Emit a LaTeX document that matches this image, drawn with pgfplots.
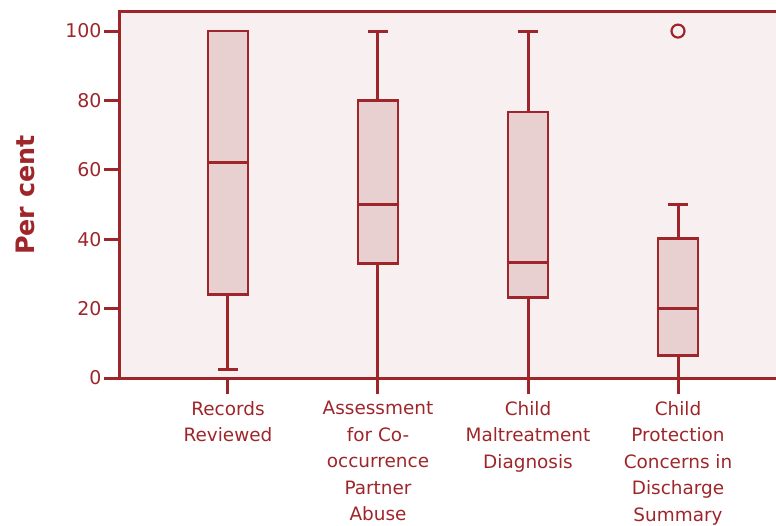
\documentclass[border=0pt]{standalone}
\usepackage{fontspec}
\setmainfont{DejaVu Sans}
\usepackage{pgfplots}
\usepgfplotslibrary{statistics}
\pgfplotsset{compat=1.18}
\definecolor{dred}{RGB}{158,38,42}
\definecolor{boxfill}{RGB}{232,208,208}
\definecolor{bg}{RGB}{248,240,240}
\begin{document}
\begin{tikzpicture}
\begin{axis}[
  scale only axis, width=660bp, height=366bp,
  xmin=0.28, xmax=4.68, ymin=0, ymax=105.5,
  axis background/.style={fill=bg},
  axis line style={dred, line width=3bp},
  tick pos=left,
  tick align=outside,
  major tick length=16bp,
  tick style={dred, line width=3bp},
  ytick={0,20,40,60,80,100},
  xtick={1,2,3,4},
  xticklabels={Records\\Reviewed, Assessment\\for Co-\\occurrence\\Partner\\Abuse, Child\\Maltreatment\\Diagnosis, Child\\Protection\\Concerns in\\Discharge\\Summary},
  xticklabel style={align=center, anchor=north, yshift=-4bp, font=\fontsize{18.5}{26.5}\selectfont, text=dred},
  yticklabel style={font=\fontsize{19}{22}\selectfont, text=dred, xshift=1bp},
  /pgf/number format/assume math mode=true,
  ylabel={Per cent},
  ylabel style={at={(rel axis cs:0,0.5)}, anchor=center, rotate=0, yshift=95bp, font=\bfseries\fontsize{25.5}{28}\selectfont, text=dred},
  boxplot/draw direction=y,
  boxplot/box extend=0.267,
  boxplot/whisker extend=0.133,
  boxplot/every whisker/.style={solid, draw=dred, line width=3bp},
  boxplot/every median/.style={solid, draw=dred, line width=3bp},
  boxplot/every box/.style={solid, draw=dred, fill=boxfill, line width=2.8bp},
]
\addplot[boxplot prepared={draw position=1, lower whisker=2.5, lower quartile=24.1, median=62.2, upper quartile=100, upper whisker=100}, solid, draw=dred, fill=boxfill, line width=2.8bp] coordinates {};
\addplot[boxplot prepared={draw position=2, lower whisker=0, lower quartile=33.1, median=50.1, upper quartile=80.1, upper whisker=100}, solid, draw=dred, fill=boxfill, line width=2.8bp] coordinates {};
\addplot[boxplot prepared={draw position=3, lower whisker=0, lower quartile=23.1, median=33.4, upper quartile=76.7, upper whisker=100}, solid, draw=dred, fill=boxfill, line width=2.8bp] coordinates {};
\addplot[boxplot prepared={draw position=4, lower whisker=0, lower quartile=6.6, median=20.1, upper quartile=40.1, upper whisker=50.1}, solid, draw=dred, fill=boxfill, line width=2.8bp, mark=o, mark options={draw=dred, fill=none, line width=2.2bp, mark size=6.5bp}] table[row sep=\\, y index=0] {data\\ 100\\};
\end{axis}
\pgfresetboundingbox
\path[use as bounding box] ([xshift=-120bp,yshift=-148bp]current axis.south west) rectangle ([xshift=-4bp,yshift=12bp]current axis.north east);
\end{tikzpicture}
\end{document}
